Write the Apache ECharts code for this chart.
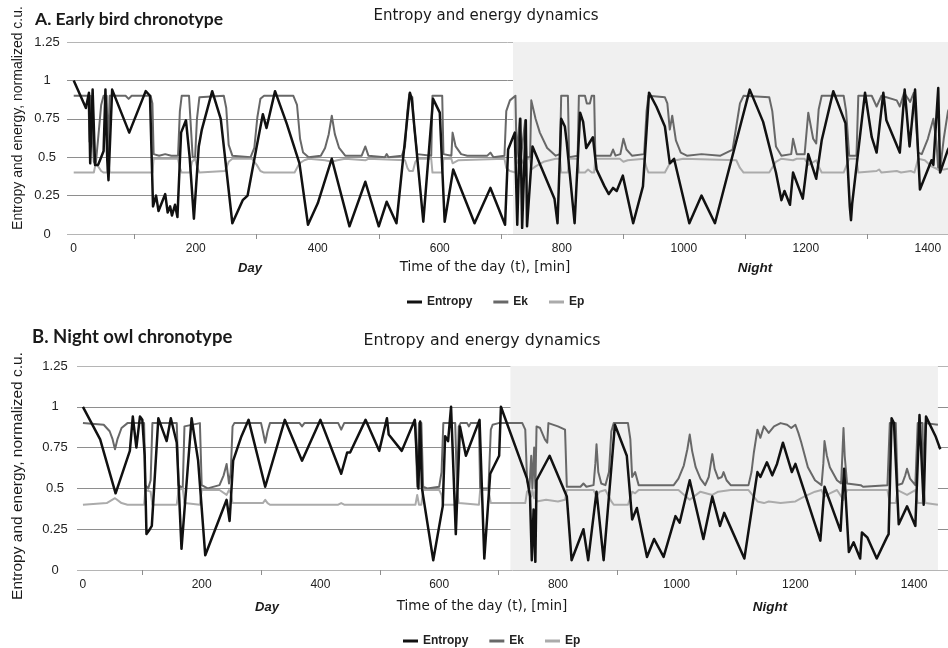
<!DOCTYPE html>
<html>
<head>
<meta charset="utf-8">
<script src="https://cdn.jsdelivr.net/npm/echarts@6/dist/echarts.min.js"></script>
<style>html,body{margin:0;padding:0;background:#fff;}#c{width:948px;height:648px;}</style>
</head>
<body>
<div id="c"></div>
<script>
// ---------- tick labels ----------
const xLabelValues = [0, 200, 400, 600, 800, 1000, 1200, 1400];
const xTickValues = [100, 300, 500, 700, 900, 1100, 1300];
const nightStart = 720;

// ---------- Panel A: Early bird chronotype ----------
const entropyA = [[0,1.0],[20,0.82],[25,0.92],[27,0.46],[31,0.94],[35,0.45],[40,0.45],[45,0.5],[49,0.54],[52,0.94],[55,0.48],[57,0.35],[63,0.94],[91,0.66],[118,0.93],[125,0.9],[130,0.18],[135,0.25],[139,0.15],[145,0.21],[150,0.26],[154,0.14],[158,0.18],[161,0.12],[166,0.19],[168,0.2],[170,0.11],[176,0.66],[184,0.74],[190,0.5],[197,0.1],[205,0.57],[210,0.68],[227,0.93],[241,0.75],[260,0.07],[277,0.22],[285,0.25],[299,0.55],[310,0.78],[316,0.69],[330,0.93],[349,0.72],[370,0.46],[384,0.06],[400,0.2],[423,0.49],[452,0.05],[478,0.34],[500,0.05],[513,0.21],[529,0.07],[551,0.92],[554,0.88],[573,0.08],[589,0.88],[600,0.79],[603,0.8],[608,0.08],[622,0.42],[657,0.07],[683,0.3],[707,0.06],[712,0.55],[723,0.66],[727,0.06],[732,0.75],[735,0.04],[741,0.74],[743,0.05],[746,0.05],[752,0.57],[788,0.23],[793,0.07],[799,0.75],[805,0.7],[808,0.6],[821,0.07],[830,0.79],[835,0.73],[840,0.56],[851,0.63],[857,0.42],[870,0.31],[877,0.26],[884,0.3],[890,0.28],[900,0.38],[917,0.07],[933,0.31],[943,0.92],[955,0.83],[969,0.7],[977,0.46],[984,0.49],[1009,0.07],[1029,0.25],[1051,0.07],[1108,0.94],[1130,0.73],[1151,0.4],[1160,0.22],[1165,0.28],[1174,0.19],[1179,0.4],[1195,0.23],[1204,0.52],[1217,0.36],[1226,0.61],[1245,0.93],[1265,0.72],[1272,0.18],[1274,0.09],[1276,0.2],[1297,0.92],[1308,0.63],[1316,0.53],[1327,0.92],[1332,0.74],[1354,0.53],[1362,0.94],[1370,0.57],[1379,0.94],[1387,0.29],[1406,0.48],[1409,0.45],[1417,0.95],[1420,0.4],[1433,0.55],[1440,0.6]];

const ekA = [[0,0.9],[24,0.9],[26,0.6],[28,0.9],[31,0.9],[33,0.47],[36,0.45],[40,0.62],[45,0.84],[49,0.9],[54,0.9],[56,0.52],[59,0.9],[85,0.9],[90,0.88],[95,0.9],[126,0.9],[129,0.85],[131,0.52],[140,0.51],[150,0.52],[160,0.51],[171,0.51],[174,0.8],[177,0.9],[189,0.9],[192,0.7],[195,0.5],[199,0.5],[202,0.75],[206,0.89],[246,0.9],[250,0.82],[254,0.58],[260,0.51],[290,0.5],[296,0.56],[301,0.76],[306,0.88],[312,0.9],[360,0.9],[366,0.84],[371,0.62],[376,0.53],[385,0.5],[405,0.51],[412,0.56],[418,0.65],[423,0.77],[428,0.65],[435,0.56],[445,0.51],[472,0.51],[478,0.57],[483,0.51],[510,0.5],[513,0.52],[516,0.5],[538,0.51],[543,0.57],[547,0.8],[550,0.91],[555,0.89],[558,0.7],[563,0.52],[586,0.51],[588,0.9],[604,0.9],[606,0.52],[619,0.51],[621,0.66],[626,0.57],[635,0.52],[645,0.51],[678,0.51],[683,0.53],[688,0.5],[706,0.51],[709,0.8],[715,0.87],[724,0.9],[726,0.5],[731,0.75],[733,0.5],[740,0.74],[742,0.5],[748,0.5],[750,0.87],[757,0.75],[764,0.66],[776,0.56],[790,0.51],[797,0.52],[799,0.9],[810,0.9],[812,0.5],[826,0.51],[828,0.9],[838,0.9],[841,0.85],[846,0.85],[849,0.9],[853,0.9],[855,0.51],[880,0.51],[884,0.55],[888,0.51],[896,0.52],[901,0.62],[906,0.55],[915,0.51],[935,0.52],[939,0.8],[942,0.9],[969,0.89],[973,0.85],[977,0.68],[981,0.77],[987,0.61],[995,0.53],[1005,0.51],[1029,0.52],[1060,0.51],[1080,0.55],[1086,0.7],[1092,0.85],[1098,0.9],[1140,0.89],[1145,0.8],[1151,0.57],[1160,0.51],[1176,0.52],[1179,0.62],[1185,0.52],[1198,0.52],[1204,0.79],[1212,0.62],[1217,0.59],[1221,0.81],[1226,0.9],[1262,0.9],[1266,0.8],[1271,0.51],[1283,0.51],[1286,0.9],[1308,0.9],[1316,0.83],[1324,0.9],[1349,0.87],[1354,0.83],[1361,0.92],[1371,0.86],[1377,0.92],[1384,0.53],[1390,0.52],[1400,0.62],[1409,0.75],[1414,0.6],[1417,0.42],[1421,0.45],[1426,0.62],[1433,0.8],[1440,0.86]];

const epA = [[0,0.4],[33,0.4],[36,0.46],[40,0.44],[45,0.41],[49,0.4],[55,0.4],[56,0.48],[59,0.4],[129,0.4],[131,0.49],[171,0.49],[174,0.43],[177,0.4],[190,0.4],[194,0.47],[199,0.49],[202,0.44],[206,0.4],[248,0.41],[254,0.47],[260,0.49],[292,0.49],[300,0.45],[306,0.41],[312,0.4],[362,0.4],[370,0.46],[378,0.48],[385,0.49],[412,0.48],[423,0.47],[432,0.48],[445,0.49],[478,0.48],[483,0.49],[543,0.48],[547,0.43],[550,0.41],[556,0.41],[560,0.47],[564,0.49],[586,0.49],[588,0.4],[604,0.4],[606,0.49],[619,0.49],[621,0.46],[630,0.48],[706,0.49],[709,0.43],[715,0.41],[724,0.4],[726,0.49],[731,0.44],[733,0.49],[740,0.44],[742,0.49],[748,0.49],[750,0.42],[757,0.44],[770,0.47],[790,0.49],[797,0.49],[799,0.4],[810,0.4],[812,0.49],[826,0.49],[828,0.4],[838,0.4],[843,0.42],[849,0.4],[853,0.4],[855,0.49],[895,0.49],[901,0.47],[908,0.48],[935,0.49],[939,0.43],[942,0.4],[969,0.4],[977,0.46],[987,0.48],[999,0.49],[1086,0.48],[1092,0.43],[1098,0.4],[1140,0.4],[1151,0.47],[1160,0.49],[1179,0.48],[1185,0.49],[1198,0.49],[1204,0.45],[1217,0.48],[1221,0.44],[1226,0.4],[1262,0.4],[1271,0.49],[1283,0.49],[1286,0.4],[1316,0.41],[1320,0.42],[1324,0.4],[1349,0.41],[1352,0.42],[1356,0.4],[1372,0.41],[1375,0.42],[1378,0.4],[1384,0.49],[1395,0.48],[1406,0.44],[1417,0.42],[1426,0.42],[1440,0.43]];

// ---------- Panel B: Night owl chronotype ----------
const entropyB = [[0,1.0],[29,0.8],[55,0.47],[79,0.73],[84,0.94],[90,0.75],[96,0.94],[100,0.92],[104,0.7],[107,0.22],[111,0.24],[116,0.27],[127,0.93],[141,0.79],[148,0.93],[158,0.78],[166,0.13],[183,0.93],[194,0.67],[206,0.09],[242,0.43],[247,0.3],[253,0.67],[267,0.82],[279,0.92],[307,0.51],[340,0.92],[369,0.67],[400,0.92],[435,0.59],[445,0.72],[450,0.72],[476,0.92],[499,0.73],[512,0.93],[515,0.83],[537,0.73],[559,0.92],[565,0.5],[568,0.91],[571,0.5],[590,0.06],[604,0.35],[606,0.39],[610,0.82],[615,0.79],[620,1.0],[628,0.22],[635,0.88],[645,0.7],[668,0.92],[676,0.07],[678,0.07],[686,0.59],[701,0.7],[704,1.0],[748,0.56],[753,0.45],[756,0.06],[759,0.37],[762,0.05],[764,0.55],[786,0.7],[815,0.45],[823,0.06],[843,0.25],[851,0.06],[865,0.48],[877,0.06],[896,0.89],[916,0.7],[925,0.31],[933,0.38],[950,0.08],[962,0.19],[978,0.08],[998,0.33],[1005,0.29],[1022,0.55],[1045,0.19],[1060,0.45],[1073,0.27],[1080,0.35],[1114,0.07],[1136,0.6],[1141,0.57],[1152,0.66],[1161,0.58],[1169,0.65],[1179,0.78],[1194,0.6],[1200,0.65],[1242,0.18],[1249,0.51],[1276,0.24],[1282,0.62],[1290,0.11],[1298,0.17],[1309,0.07],[1312,0.23],[1321,0.2],[1337,0.07],[1354,0.2],[1357,0.22],[1362,0.93],[1366,0.9],[1374,0.28],[1388,0.39],[1402,0.27],[1409,0.95],[1416,0.4],[1420,0.94],[1436,0.82],[1444,0.74]];

const ekB = [[0,0.9],[35,0.89],[45,0.85],[50,0.8],[54,0.74],[58,0.8],[65,0.87],[75,0.9],[103,0.9],[105,0.52],[110,0.5],[114,0.55],[117,0.9],[158,0.9],[161,0.52],[168,0.5],[171,0.88],[197,0.9],[200,0.52],[210,0.5],[230,0.52],[237,0.58],[242,0.65],[246,0.53],[249,0.6],[252,0.88],[255,0.9],[300,0.9],[303,0.85],[307,0.78],[311,0.85],[315,0.9],[365,0.9],[369,0.88],[373,0.9],[430,0.9],[435,0.86],[440,0.9],[560,0.9],[563,0.51],[566,0.9],[570,0.9],[573,0.51],[580,0.5],[600,0.51],[604,0.6],[607,0.9],[627,0.9],[630,0.5],[633,0.88],[636,0.9],[647,0.9],[650,0.88],[653,0.9],[667,0.9],[669,0.5],[683,0.5],[687,0.86],[690,0.89],[700,0.9],[740,0.9],[745,0.86],[748,0.55],[752,0.5],[755,0.7],[757,0.5],[760,0.75],[762,0.5],[764,0.88],[770,0.87],[778,0.8],[782,0.78],[784,0.9],[800,0.88],[812,0.86],[815,0.51],[838,0.51],[843,0.53],[848,0.51],[860,0.52],[863,0.65],[865,0.77],[868,0.6],[873,0.53],[880,0.52],[886,0.6],[890,0.85],[894,0.9],[918,0.9],[922,0.8],[925,0.57],[930,0.6],[936,0.52],[995,0.52],[1003,0.56],[1012,0.64],[1018,0.74],[1022,0.83],[1026,0.73],[1032,0.63],[1040,0.56],[1048,0.52],[1054,0.57],[1060,0.71],[1064,0.62],[1070,0.56],[1076,0.57],[1079,0.6],[1084,0.55],[1091,0.52],[1121,0.52],[1126,0.6],[1130,0.72],[1136,0.86],[1141,0.81],[1147,0.88],[1155,0.84],[1164,0.88],[1175,0.9],[1186,0.89],[1193,0.87],[1200,0.89],[1205,0.84],[1210,0.78],[1221,0.63],[1233,0.55],[1244,0.52],[1247,0.65],[1249,0.79],[1253,0.7],[1258,0.63],[1270,0.55],[1277,0.53],[1279,0.7],[1281,0.87],[1283,0.7],[1287,0.53],[1310,0.52],[1312,0.53],[1314,0.51],[1355,0.52],[1359,0.9],[1369,0.9],[1372,0.52],[1380,0.53],[1385,0.58],[1388,0.62],[1393,0.56],[1402,0.52],[1406,0.9],[1414,0.9],[1416,0.52],[1419,0.9],[1440,0.89]];

const epB = [[0,0.4],[40,0.41],[54,0.44],[65,0.41],[75,0.4],[103,0.4],[105,0.49],[114,0.48],[117,0.4],[158,0.4],[161,0.49],[168,0.5],[171,0.41],[197,0.4],[200,0.49],[230,0.49],[242,0.46],[246,0.49],[249,0.47],[252,0.41],[255,0.4],[303,0.41],[307,0.43],[311,0.41],[315,0.4],[430,0.4],[435,0.41],[440,0.4],[560,0.4],[563,0.46],[566,0.4],[570,0.4],[573,0.49],[600,0.49],[604,0.46],[607,0.4],[627,0.4],[630,0.49],[633,0.41],[667,0.4],[669,0.49],[683,0.49],[687,0.41],[690,0.4],[745,0.41],[748,0.48],[752,0.49],[755,0.45],[757,0.49],[760,0.44],[762,0.49],[764,0.42],[780,0.43],[800,0.42],[812,0.43],[815,0.49],[860,0.49],[865,0.45],[870,0.48],[880,0.49],[890,0.42],[894,0.4],[918,0.4],[925,0.48],[930,0.47],[936,0.49],[1003,0.49],[1022,0.43],[1040,0.48],[1060,0.46],[1070,0.48],[1091,0.49],[1121,0.49],[1130,0.45],[1136,0.42],[1147,0.41],[1155,0.42],[1175,0.41],[1200,0.42],[1210,0.44],[1221,0.46],[1233,0.48],[1244,0.49],[1249,0.45],[1258,0.47],[1270,0.49],[1281,0.43],[1287,0.49],[1355,0.49],[1359,0.41],[1369,0.41],[1372,0.49],[1388,0.46],[1402,0.49],[1406,0.41],[1414,0.41],[1416,0.49],[1419,0.41],[1440,0.4]];

// ---------- build ----------
const chart = echarts.init(document.getElementById('c'), null, {renderer: 'canvas'});
const gridColors = ['#b5b5b5', '#8e8e8e', '#8e8e8e', '#8e8e8e', '#8e8e8e', '#b5b5b5'];

function xAxisCfg(gi, min, max) {
  return {
    type: 'value', gridIndex: gi, min: min, max: max,
    axisLine: {show: false},
    splitLine: {show: false},
    axisTick: {show: true, customValues: xTickValues, length: 5, lineStyle: {color: '#8e8e8e'}},
    axisLabel: {customValues: xLabelValues, margin: 9, fontFamily: 'Liberation Sans', fontSize: 12, color: '#222',
      formatter: function (v) { return String(v); }}
  };
}
function yAxisCfg(gi, margin) {
  return {
    type: 'value', gridIndex: gi, min: 0, max: 1.25, interval: 0.25,
    axisLine: {show: false}, axisTick: {show: false},
    splitLine: {show: true, lineStyle: {color: gridColors, width: 1}},
    axisLabel: {align: 'center', margin: margin, fontFamily: 'Liberation Sans', fontSize: 13, color: '#222'}
  };
}
function lineSeries(name, data, gi, color, width, z, area) {
  const s = {
    name: name, type: 'line', xAxisIndex: gi, yAxisIndex: gi, data: data,
    showSymbol: false, symbol: 'none', z: z,
    itemStyle: {color: color}, lineStyle: {color: color, width: width, join: 'round'}
  };
  if (area) {
    s.markArea = {silent: true, itemStyle: {color: '#f0f0f0'}, data: [[{xAxis: nightStart}, {xAxis: area}]]};
  }
  return s;
}
function legendCfg(left, top) {
  return {
    data: ['Entropy', 'Ek', 'Ep'], left: left, top: top, icon: 'rect',
    itemWidth: 15, itemHeight: 3, itemGap: 21,
    textStyle: {fontFamily: 'Liberation Sans', fontWeight: 'bold', fontSize: 12, color: '#222'}
  };
}
function txt(x, y, text, font, align, rot) {
  const e = {type: 'text', x: x, y: y, z: 100,
    style: {text: text, font: font, fill: '#1a1a1a', textAlign: align || 'left', textVerticalAlign: 'middle'}};
  if (rot) e.rotation = rot;
  return e;
}

const option = {
  animation: false,
  backgroundColor: '#fff',
  grid: [
    {left: 67, top: 42, width: 881, height: 192},
    {left: 77, top: 366, width: 871, height: 204}
  ],
  xAxis: [xAxisCfg(0, -11, 1433), xAxisCfg(1, -10, 1457)],
  yAxis: [yAxisCfg(0, 20), yAxisCfg(1, 22)],
  legend: [legendCfg(402, 291), legendCfg(398, 630)],
  series: [
    lineSeries('Ek', ekA, 0, '#686868', 2, 3, 1433),
    lineSeries('Ep', epA, 0, '#ababab', 2, 4),
    lineSeries('Entropy', entropyA, 0, '#111111', 2.5, 5),
    lineSeries('Ek', ekB, 1, '#686868', 2, 3, 1440),
    lineSeries('Ep', epB, 1, '#ababab', 2, 4),
    lineSeries('Entropy', entropyB, 1, '#111111', 2.5, 5)
  ],
  graphic: [
    txt(35, 19, 'A. Early bird chronotype', 'bold 17.5px Lato'),
    txt(486, 16, 'Entropy and energy dynamics', '15px "DejaVu Sans"', 'center'),
    txt(18, 118, 'Entropy and energy, normalized c.u.', '14px "Liberation Sans"', 'center', Math.PI / 2),
    txt(485, 267, 'Time of the day (t), [min]', '13.5px "DejaVu Sans"', 'center'),
    txt(250, 268, 'Day', 'italic bold 13px "Liberation Sans"', 'center'),
    txt(755, 268, 'Night', 'italic bold 13.5px "Liberation Sans"', 'center'),
    txt(32, 337, 'B. Night owl chronotype', 'bold 18.5px Lato'),
    txt(482, 341, 'Entropy and energy dynamics', '15.8px "DejaVu Sans"', 'center'),
    txt(18, 476, 'Entropy and energy, normalized c.u.', '15.5px "Liberation Sans"', 'center', Math.PI / 2),
    txt(482, 606, 'Time of the day (t), [min]', '13.5px "DejaVu Sans"', 'center'),
    txt(267, 607, 'Day', 'italic bold 13px "Liberation Sans"', 'center'),
    txt(770, 607, 'Night', 'italic bold 13.5px "Liberation Sans"', 'center')
  ]
};
chart.setOption(option);
</script>
</body>
</html>
